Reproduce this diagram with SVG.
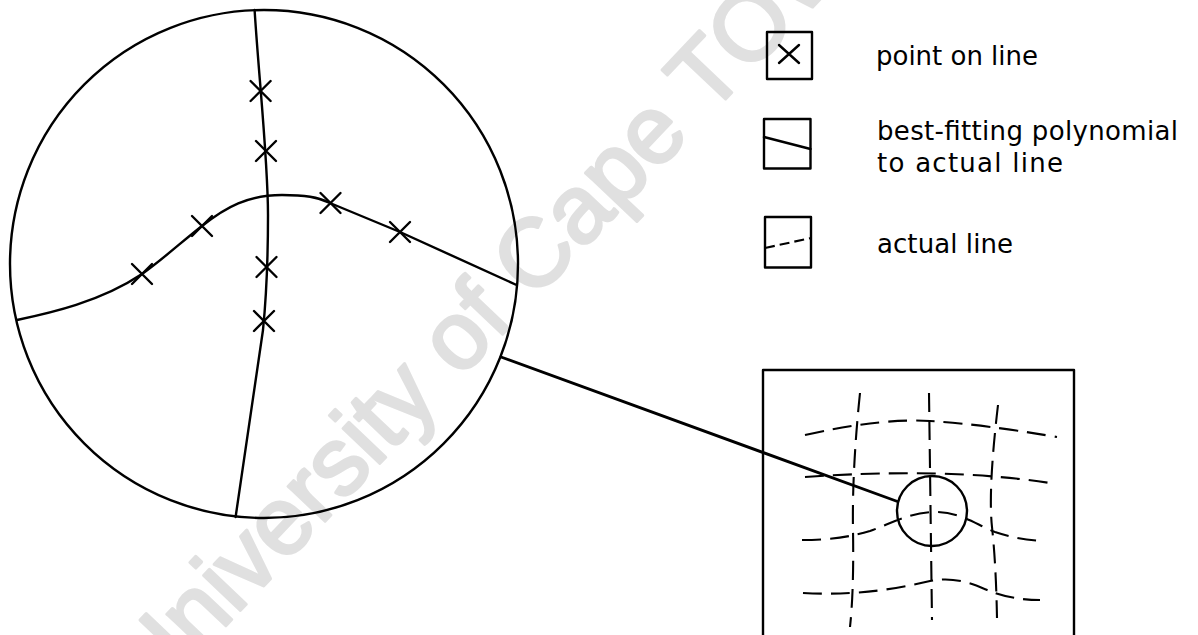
<svg xmlns="http://www.w3.org/2000/svg" width="1198" height="635" viewBox="0 0 1198 635">
  <style>
    .ink { fill: none; stroke: #000; stroke-width: 2.4; stroke-linecap: round; stroke-linejoin: round; }
    .thick { stroke-width: 2.9; }
    .dash { fill: none; stroke: #000; stroke-width: 2.1; stroke-dasharray: 19 9; }
    .dash-s { fill: none; stroke: #000; stroke-width: 2.1; stroke-dasharray: 10 5; }
    .label { font-family: "DejaVu Sans", "Liberation Sans", sans-serif; font-size: 26px; fill: #000; }
    .wm { font-family: "Liberation Sans", Arial, sans-serif; font-size: 96px; fill: #e0e0e0; stroke: #e0e0e0; stroke-width: 3; stroke-linejoin: round; }
  </style>
  <defs>
    <path id="cross" d="M-10,-10 L10,10 M10,-10 L-10,10" />
  </defs>

  <rect width="1198" height="635" fill="#fff" />

  <!-- background watermark -->
  <text class="wm" transform="translate(151.5,704) rotate(-46.5)">University of Cape TOWN</text>

  <!-- magnified view of one grid intersection -->
  <g id="magnified">
    <circle class="ink" cx="264" cy="264" r="254" />
    <!-- near-vertical line -->
    <path class="ink" d="M254.6,10 C259,80 268,160 268,215 C268,260 266,300 263,330 L235.6,517" />
    <!-- near-horizontal line -->
    <path class="ink" d="M17,320 C50,313 100,302 142,274 C162,260 185,239 202,226 C226,207 248,195 282,195 C305,195 318,197 330,203 L400,232 L516.6,285" />
    <g class="ink">
      <use href="#cross" x="260.6" y="91" />
      <use href="#cross" x="266" y="151" />
      <use href="#cross" x="266.5" y="267" />
      <use href="#cross" x="264" y="321" />
      <use href="#cross" x="142" y="274" />
      <use href="#cross" x="202" y="226" />
      <use href="#cross" x="330.5" y="203" />
      <use href="#cross" x="400" y="232" />
    </g>
  </g>

  <!-- grid sheet -->
  <g id="grid-sheet">
    <path class="ink" d="M763,640 L763,370 L1074,370 L1074,640" />
    <path class="dash" d="M860,393 Q852,470 853,530 T850,627" />
    <path class="dash" d="M929,393 L932,620" />
    <path class="dash" d="M998,405 Q988,490 992,527 T997,618" />
    <path class="dash" d="M805,435 Q880,418 930,421 T1057,437" />
    <path class="dash" d="M805,477 C860,473 960,469 1050,483" />
    <path class="dash" d="M802,540 C830,540 850,537 870,531 C890,524 910,512 935,512 C960,512 975,524 995,532 C1010,537 1025,540 1042,541" />
    <path class="dash" d="M803,593 C840,595 880,593 930,581 C960,575 980,588 995,593 C1010,598 1025,600 1040,600" />
    <circle id="zoom-area" class="ink" cx="932" cy="511" r="35" />
  </g>

  <!-- leader from the magnified view to its area on the sheet -->
  <g id="connectors">
    <line class="ink thick" x1="501" y1="357" x2="897.5" y2="501.5" />
  </g>

  <!-- key -->
  <g id="key-point">
    <rect class="ink" x="767" y="32" width="45" height="47" />
    <path class="ink" d="M779,45 L799,63 M799,45 L779,63" />
    <text class="label" x="876" y="65" textLength="162" lengthAdjust="spacing">point on line</text>
  </g>
  <g id="key-polynomial">
    <rect class="ink" x="764" y="119" width="46.5" height="49.5" />
    <line class="ink" x1="764" y1="137" x2="810.5" y2="149" />
    <text class="label" x="877" y="140" textLength="301" lengthAdjust="spacing">best-fitting polynomial</text>
    <text class="label" x="877" y="172" textLength="186" lengthAdjust="spacing">to actual line</text>
  </g>
  <g id="key-actual">
    <rect class="ink" x="765" y="217" width="46" height="50.5" />
    <line class="dash-s" x1="765" y1="248" x2="811" y2="238" />
    <text class="label" x="877" y="253" textLength="136" lengthAdjust="spacing">actual line</text>
  </g>
</svg>
